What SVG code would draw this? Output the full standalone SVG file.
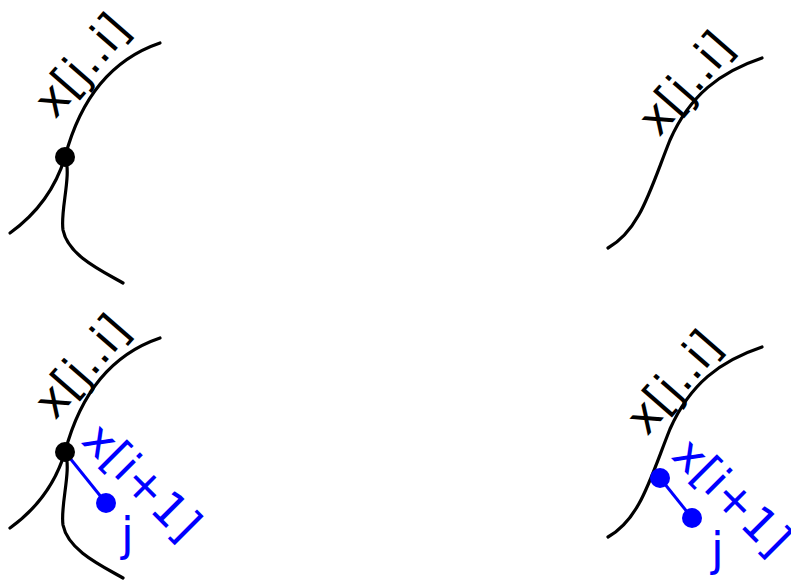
<svg xmlns="http://www.w3.org/2000/svg" width="791" height="580" viewBox="0 0 791 580">
<style>
.c{fill:none;stroke:#000;stroke-width:3.2;stroke-linecap:round}
.b{fill:none;stroke:#0000ff;stroke-width:3}
.t{font-family:"DejaVu Sans",sans-serif;font-size:46px;fill:#000}
.tb{font-family:"DejaVu Sans",sans-serif;font-size:46px;fill:#0000ff}
</style>
<rect width="791" height="580" fill="#fff"/>
<g id="connectors">
<path class="c" d="M160,43 C110,60 80,100 65,157 C55,190 35,215 10,233"/>
<path class="c" d="M65,157 C72,175 60,210 63,230 C68,255 100,270 123,283"/>
<path class="c" d="M762,58 C720,72 690,95 670,140 C650,190 640,230 608,248"/>
<path class="c" d="M160,338 C110,355 80,395 65,452 C55,485 35,510 10,528"/>
<path class="c" d="M65,452 C72,470 60,505 63,525 C68,550 100,565 123,578"/>
<path class="c" d="M762,347 C720,361 690,384 670,429 C650,479 640,519 608,537"/>
<line class="b" x1="65" y1="452" x2="106" y2="503"/>
<line class="b" x1="660" y1="478" x2="692" y2="518"/>
</g>
<g id="n1">
<circle cx="65" cy="157" r="10" fill="#000"/>
<text class="t" transform="translate(55,120) rotate(-49)">x[j..i]</text>
</g>
<g id="n2">
<text class="t" transform="translate(659,138) rotate(-49)">x[j..i]</text>
</g>
<g id="n3">
<circle cx="65" cy="452" r="10" fill="#000"/>
<text class="t" transform="translate(55,421) rotate(-49)">x[j..i]</text>
<circle cx="106" cy="503" r="10" fill="#0000ff"/>
<text class="tb" transform="translate(80,442) rotate(45)">x[i+1]</text>
<text class="tb" x="121" y="550">j</text>
</g>
<g id="n4">
<text class="t" transform="translate(647,437) rotate(-49)">x[j..i]</text>
<circle cx="660" cy="478" r="10" fill="#0000ff"/>
<circle cx="692" cy="518" r="10" fill="#0000ff"/>
<text class="tb" transform="translate(670,457) rotate(45)">x[i+1]</text>
<text class="tb" x="711" y="565">j</text>
</g>
</svg>
